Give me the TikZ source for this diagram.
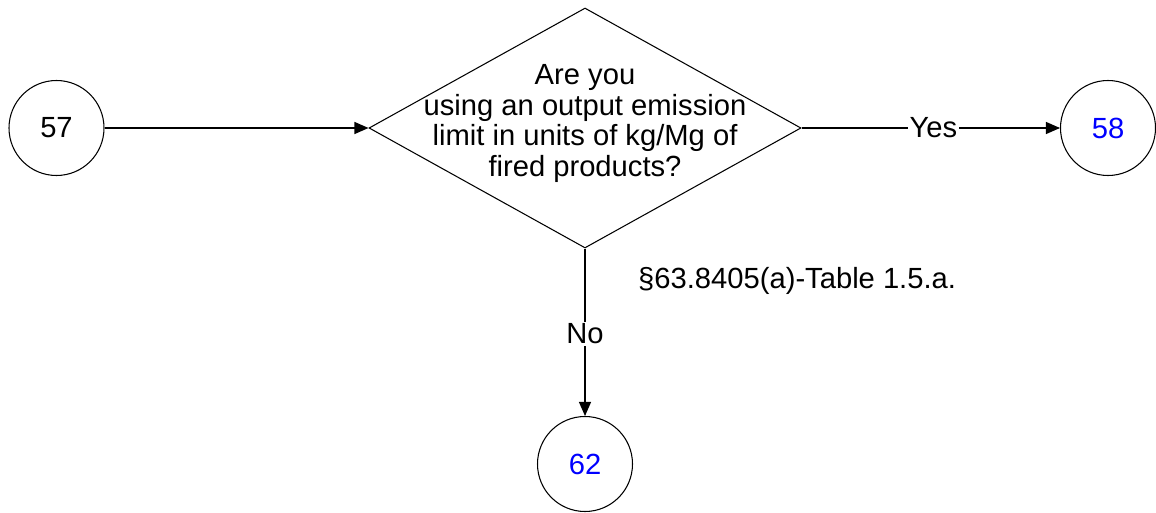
\documentclass[tikz,border=0pt]{standalone}
\usepackage{fontspec}
\setmainfont{Liberation Sans}
\usetikzlibrary{shapes.geometric,arrows.meta}
\definecolor{linkblue}{RGB}{0,0,255}
\tikzset{
  conn/.style={circle, draw, line width=0.6pt, minimum size=1.9cm, inner sep=0pt},
  decision/.style={diamond, draw, line width=0.6pt, minimum width=8.64cm, minimum height=4.8cm, inner sep=0pt},
  edgelabel/.style={fill=white, inner sep=1pt},
  flow/.style={line width=0.6pt, -{Triangle[length=0.28cm,width=0.24cm]}}
}
\begin{document}
\begin{tikzpicture}[font=\fontsize{16.6}{17.6}\selectfont]
      \useasboundingbox (0,0) rectangle (23.12,10.24);
      \draw
        (1.13,7.68) node[conn] (57){57}
        (11.7,7.68) node[decision] (q){}
        (22.16,7.68) node[conn, text=linkblue] (58){58}
        (11.7,0.96) node[conn, text=linkblue] (62){62};
      \node[align=center] (qtext) at (11.7,7.77)
        {Are you\\using an output emission\\limit in units of kg/Mg of\\fired products?};
      \node[anchor=west] (ref) at (12.64,4.62) {\S63.8405(a)-Table 1.5.a.};
      \begin{scope}[flow]
        \draw (57) to (q.west);
        \draw (q.east) to node[edgelabel, pos=0.51] (yes){Yes} (58);
        \draw (q.south) to node[edgelabel, pos=0.51] (no){No} (62);
      \end{scope}
    \end{tikzpicture}
\end{document}
